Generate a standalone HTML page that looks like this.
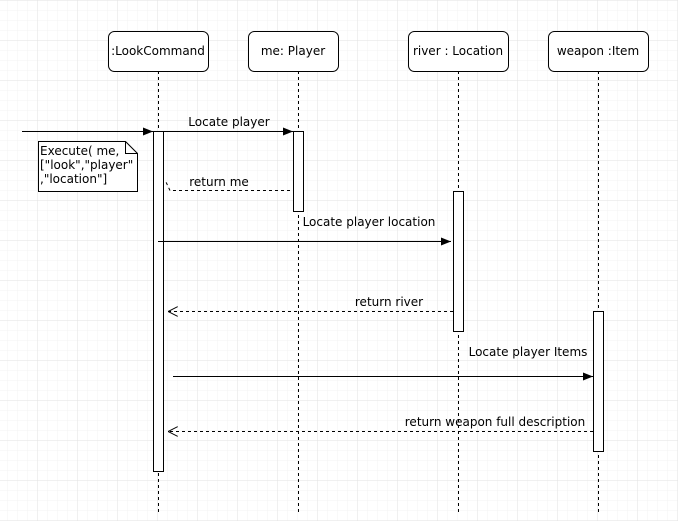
<!DOCTYPE html>
<html><head><style>
html,body{margin:0;padding:0;background:#fff}
svg{display:block}
text{font-family:"DejaVu Sans","Liberation Sans",sans-serif;font-size:12px;fill:#000}
</style></head><body>
<svg width="678" height="521" xmlns="http://www.w3.org/2000/svg">
<defs>
<pattern id="mi" width="10" height="10" patternUnits="userSpaceOnUse" x="-2" y="1">
<path d="M10 0V10M0 10H10" stroke="#f3f3f3" stroke-width="1" fill="none"/></pattern>
<pattern id="ma" width="40" height="40" patternUnits="userSpaceOnUse" x="-2" y="1">
<path d="M40 0V40M0 40H40" stroke="#e2e2e2" stroke-width="1" fill="none"/></pattern>
<marker id="f" markerWidth="10" markerHeight="8" refX="10" refY="4" orient="auto" markerUnits="userSpaceOnUse"><path d="M0 0L10 4L0 8z" fill="#000"/></marker>
<marker id="o" markerWidth="10" markerHeight="10" refX="10" refY="5" orient="auto" markerUnits="userSpaceOnUse"><path d="M0 0L10 5L0 10" fill="none" stroke="#000"/></marker>
</defs>
<rect width="678" height="521" fill="url(#mi)"/>
<rect width="678" height="521" fill="url(#ma)"/>
<g stroke="#000" stroke-dasharray="3,3" fill="none">
<path d="M158.5 71V513M298.5 71V513M458.5 71V513M598.5 71V513"/>
</g>
<g fill="#fff" stroke="#000">
<rect x="108.5" y="31.5" width="100" height="40" rx="6"/>
<rect x="248.5" y="31.5" width="90" height="40" rx="6"/>
<rect x="408.5" y="31.5" width="100" height="40" rx="6"/>
<rect x="548.5" y="31.5" width="100" height="40" rx="6"/>
<rect x="153.5" y="131.5" width="10" height="340"/>
<rect x="293.5" y="131.5" width="10" height="80"/>
<rect x="453.5" y="191.5" width="10" height="140"/>
<rect x="593.5" y="311.5" width="10" height="140"/>
<path d="M38.5 141.5H125.5L137.5 153.5V191.5H38.5Z"/>
<path d="M125.5 141.5V153.5H137.5" fill="none"/>
</g>
<text x="158" y="55" text-anchor="middle">:LookCommand</text>
<text x="293" y="55" text-anchor="middle">me: Player</text>
<text x="458" y="55" text-anchor="middle">river : Location</text>
<text x="598" y="55" text-anchor="middle">weapon :Item</text>
<text x="40" y="155">Execute( me,</text>
<text x="40" y="169">["look","player"</text>
<text x="40" y="183">,"location"]</text>
<g stroke="#000" fill="none">
<path d="M22 131.5H153" marker-end="url(#f)"/>
<path d="M163 131.5H293" marker-end="url(#f)"/>
<path d="M158 241.5H451" marker-end="url(#f)"/>
<path d="M173 376.5H593" marker-end="url(#f)"/>
<g stroke-dasharray="3,3">
<path d="M290 190.5H170L165 180"/>
<path d="M453 311.5H168" marker-end="url(#o)"/>
<path d="M593 431.5H168" marker-end="url(#o)"/>
</g>
</g>
<text x="229" y="126" text-anchor="middle">Locate player</text>
<text x="219" y="186" text-anchor="middle">return me</text>
<text x="369" y="226" text-anchor="middle">Locate player location</text>
<text x="389" y="306" text-anchor="middle">return river</text>
<text x="528" y="356" text-anchor="middle">Locate player Items</text>
<text x="495" y="426" text-anchor="middle">return weapon full description</text>
</svg>
</body></html>
